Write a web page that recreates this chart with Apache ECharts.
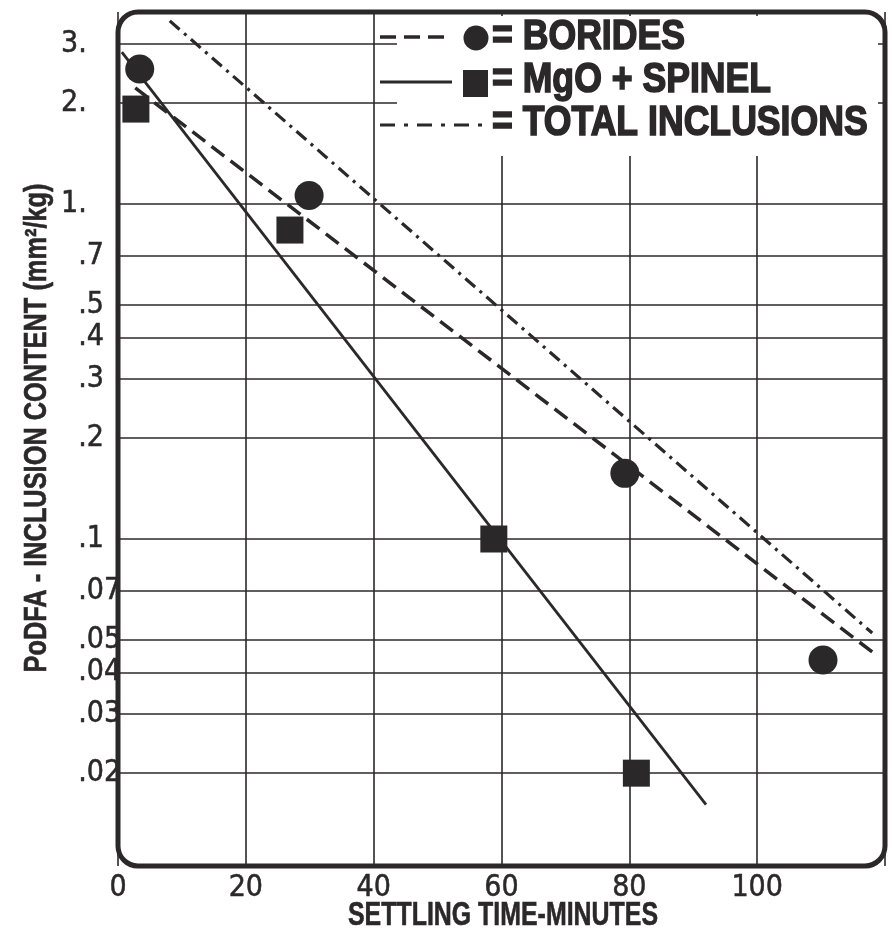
<!DOCTYPE html>
<html>
<head>
<meta charset="utf-8">
<script src="https://cdn.jsdelivr.net/npm/echarts@6/dist/echarts.min.js"></script>
<style>
  html, body { margin: 0; padding: 0; background: #ffffff; }
  #chart { width: 892px; height: 936px; }
</style>
</head>
<body>
<div id="chart"></div>
<script>
// Measured inclusion contents (mm²/kg) against settling time (minutes)
const borideTimes  = [3.4, 29.9, 79.3, 110.3];
const borideValues = [2.53, 1.06, 0.157, 0.0435];
const mgoTimes     = [2.8, 26.9, 58.8, 81.1];
const mgoValues    = [1.92, 0.836, 0.1, 0.02];

// Straight-line (log-linear) fits, given by their two end points
const borideFitTimes  = [2.7, 118];
const borideFitValues = [2.22, 0.046];
const mgoFitTimes     = [0.6, 92];
const mgoFitValues    = [2.84, 0.0161];
const totalFitTimes   = [8.1, 118];
const totalFitValues  = [3.52, 0.0524];

// Axis ticks
const yTickValues = [0.02, 0.03, 0.04, 0.05, 0.07, 0.1, 0.2, 0.3, 0.4, 0.5, 0.7, 1, 2, 3];
const yTickLabels = ['.02', '.03', '.04', '.05', '.07', '.1', '.2', '.3', '.4', '.5', '.7', '1.', '2.', '3.'];
const xTickValues = [0, 20, 40, 60, 80, 100];

const seriesNames = ['BORIDES', 'MgO + SPINEL', 'TOTAL INCLUSIONS'];

const INK = '#2b2829';
const GRID = { left: 118, top: 12, width: 767, height: 854 };
const Y_MIN = 0.010566, Y_MAX = 3.742, X_MIN = 0, X_MAX = 120;

const LABEL_FAMILY = '"Liberation Sans Narrow", "DejaVu Sans Condensed", "Liberation Sans", sans-serif';
const LABEL_SIZE = 30;
const HEAD_FAMILY = '"Liberation Sans", Arial, sans-serif';

const measureCtx = document.createElement('canvas').getContext('2d');
function textWidth(text, font) {
  measureCtx.font = font;
  return measureCtx.measureText(text).width;
}
const digitWidth = textWidth('0', LABEL_SIZE + 'px ' + LABEL_FAMILY);

function pairs(xs, ys) { return xs.map((x, i) => [x, ys[i]]); }

function yLabel(value) {
  let best = 0;
  yTickValues.forEach((v, i) => {
    if (Math.abs(Math.log(v / value)) < Math.abs(Math.log(yTickValues[best] / value))) best = i;
  });
  const t = yTickLabels[best];
  // decimal points line up: values below one get a digit-wide lead
  return t.charAt(0) === '.' ? '{pad|\u2007}' + t : t;
}

// Condensed headings: scale each text horizontally to its width
const LEG_SIZE = 42;
const legFont = 'bold ' + LEG_SIZE + 'px ' + HEAD_FAMILY;
const legScale = 345 / textWidth('TOTAL INCLUSIONS', legFont);

const xNameText = 'SETTLING TIME-MINUTES';
const xNameSize = 34;
const xNameScale = 310 / textWidth(xNameText, 'bold ' + xNameSize + 'px ' + HEAD_FAMILY);

const yNameText = 'PoDFA - INCLUSION CONTENT (mm\u00B2/kg)';
const yNameSize = 31;
const yNameScale = 489 / textWidth(yNameText, 'bold ' + yNameSize + 'px ' + HEAD_FAMILY);

function headText(text, x, y, size, scale, align, heavy, extra) {
  return Object.assign({
    type: 'text',
    x: x, y: y,
    scaleX: scale,
    z: 6,
    silent: true,
    style: {
      text: text,
      fill: INK,
      stroke: INK,
      lineWidth: heavy,
      fontFamily: HEAD_FAMILY,
      fontWeight: 'bold',
      fontSize: size,
      textAlign: align,
      textVerticalAlign: 'middle'
    }
  }, extra || {});
}

const legendRows = [
  { y: 37, dash: [16, 8], width: 3.5, x2: 446 },
  { y: 82, dash: null, width: 2.8, x2: 452 },
  { y: 125, dash: [15, 9, 4, 9], width: 3.2, x2: 490 }
];

const graphics = [
  // blank panel behind the key
  { type: 'rect', z: 1, silent: true,
    shape: { x: 397, y: 16, width: 481, height: 140 },
    style: { fill: '#ffffff' } },
  // rounded frame of the plotting area
  { type: 'rect', z: 8, silent: true,
    shape: { x: GRID.left, y: GRID.top, width: GRID.width, height: GRID.height, r: 20 },
    style: { fill: 'none', stroke: INK, lineWidth: 5 } }
];

legendRows.forEach(row => {
  graphics.push({
    type: 'line', z: 6, silent: true,
    shape: { x1: 380, y1: row.y, x2: row.x2, y2: row.y },
    style: { stroke: INK, lineWidth: row.width, lineDash: row.dash || null }
  });
});
graphics.push({ type: 'circle', z: 6, silent: true, shape: { cx: 476, cy: 38, r: 12.5 }, style: { fill: INK } });
graphics.push({ type: 'rect', z: 6, silent: true, shape: { x: 463, y: 70, width: 25, height: 27 }, style: { fill: INK } });
graphics.push(headText('= ' + seriesNames[0], 492, 37, LEG_SIZE, legScale, 'left', 1.6));
graphics.push(headText('= ' + seriesNames[1], 492, 80, LEG_SIZE, legScale, 'left', 1.6));
graphics.push(headText('= ' + seriesNames[2], 492, 123, LEG_SIZE, legScale, 'left', 1.6));

// axis titles
graphics.push(headText(xNameText, 503, 916, xNameSize, xNameScale, 'center', 0.6));
graphics.push(headText(yNameText, 37, 428, yNameSize, yNameScale, 'center', 0.6, { rotation: Math.PI / 2 }));

const chart = echarts.init(document.getElementById('chart'), null, { renderer: 'canvas' });

const tickLabelStyle = {
  color: INK,
  fontFamily: LABEL_FAMILY,
  fontSize: LABEL_SIZE,
  textBorderColor: INK,
  textBorderWidth: 0.5
};

chart.setOption({
  animation: false,
  backgroundColor: '#ffffff',
  grid: { left: GRID.left, top: GRID.top, width: GRID.width, height: GRID.height, containLabel: false },
  xAxis: {
    type: 'value',
    min: X_MIN, max: X_MAX, interval: 20,
    axisLine: { show: false },
    axisTick: { show: false },
    splitLine: { show: true, lineStyle: { color: INK, width: 1.6 } },
    axisLabel: Object.assign({
      customValues: xTickValues,
      margin: 7,
      verticalAlign: 'top'
    }, tickLabelStyle)
  },
  yAxis: {
    type: 'log',
    logBase: 10,
    min: Y_MIN, max: Y_MAX,
    axisLine: { show: false },
    axisTick: { show: false, customValues: yTickValues },
    splitLine: { show: true, lineStyle: { color: INK, width: 1.6 } },
    axisLabel: Object.assign({
      customValues: yTickValues,
      formatter: yLabel,
      align: 'left',
      margin: 57,
      rich: { pad: { width: digitWidth, fontFamily: LABEL_FAMILY, fontSize: LABEL_SIZE } }
    }, tickLabelStyle)
  },
  series: [
    {
      name: seriesNames[0], type: 'line', z: 3,
      data: pairs(borideFitTimes, borideFitValues),
      showSymbol: false, silent: true,
      lineStyle: { color: INK, width: 3.5, type: [16, 8] }
    },
    {
      name: seriesNames[1], type: 'line', z: 3,
      data: pairs(mgoFitTimes, mgoFitValues),
      showSymbol: false, silent: true,
      lineStyle: { color: INK, width: 2.8, type: 'solid' }
    },
    {
      name: seriesNames[2], type: 'line', z: 3,
      data: pairs(totalFitTimes, totalFitValues),
      showSymbol: false, silent: true,
      lineStyle: { color: INK, width: 3.2, type: [13, 6, 3, 6] }
    },
    {
      name: seriesNames[0], type: 'scatter', z: 4,
      data: pairs(borideTimes, borideValues),
      symbol: 'circle', symbolSize: 29,
      itemStyle: { color: INK, opacity: 1 }
    },
    {
      name: seriesNames[1], type: 'scatter', z: 4,
      data: pairs(mgoTimes, mgoValues),
      symbol: 'rect', symbolSize: 27,
      itemStyle: { color: INK, opacity: 1 }
    }
  ],
  graphic: graphics
});
</script>
</body>
</html>
